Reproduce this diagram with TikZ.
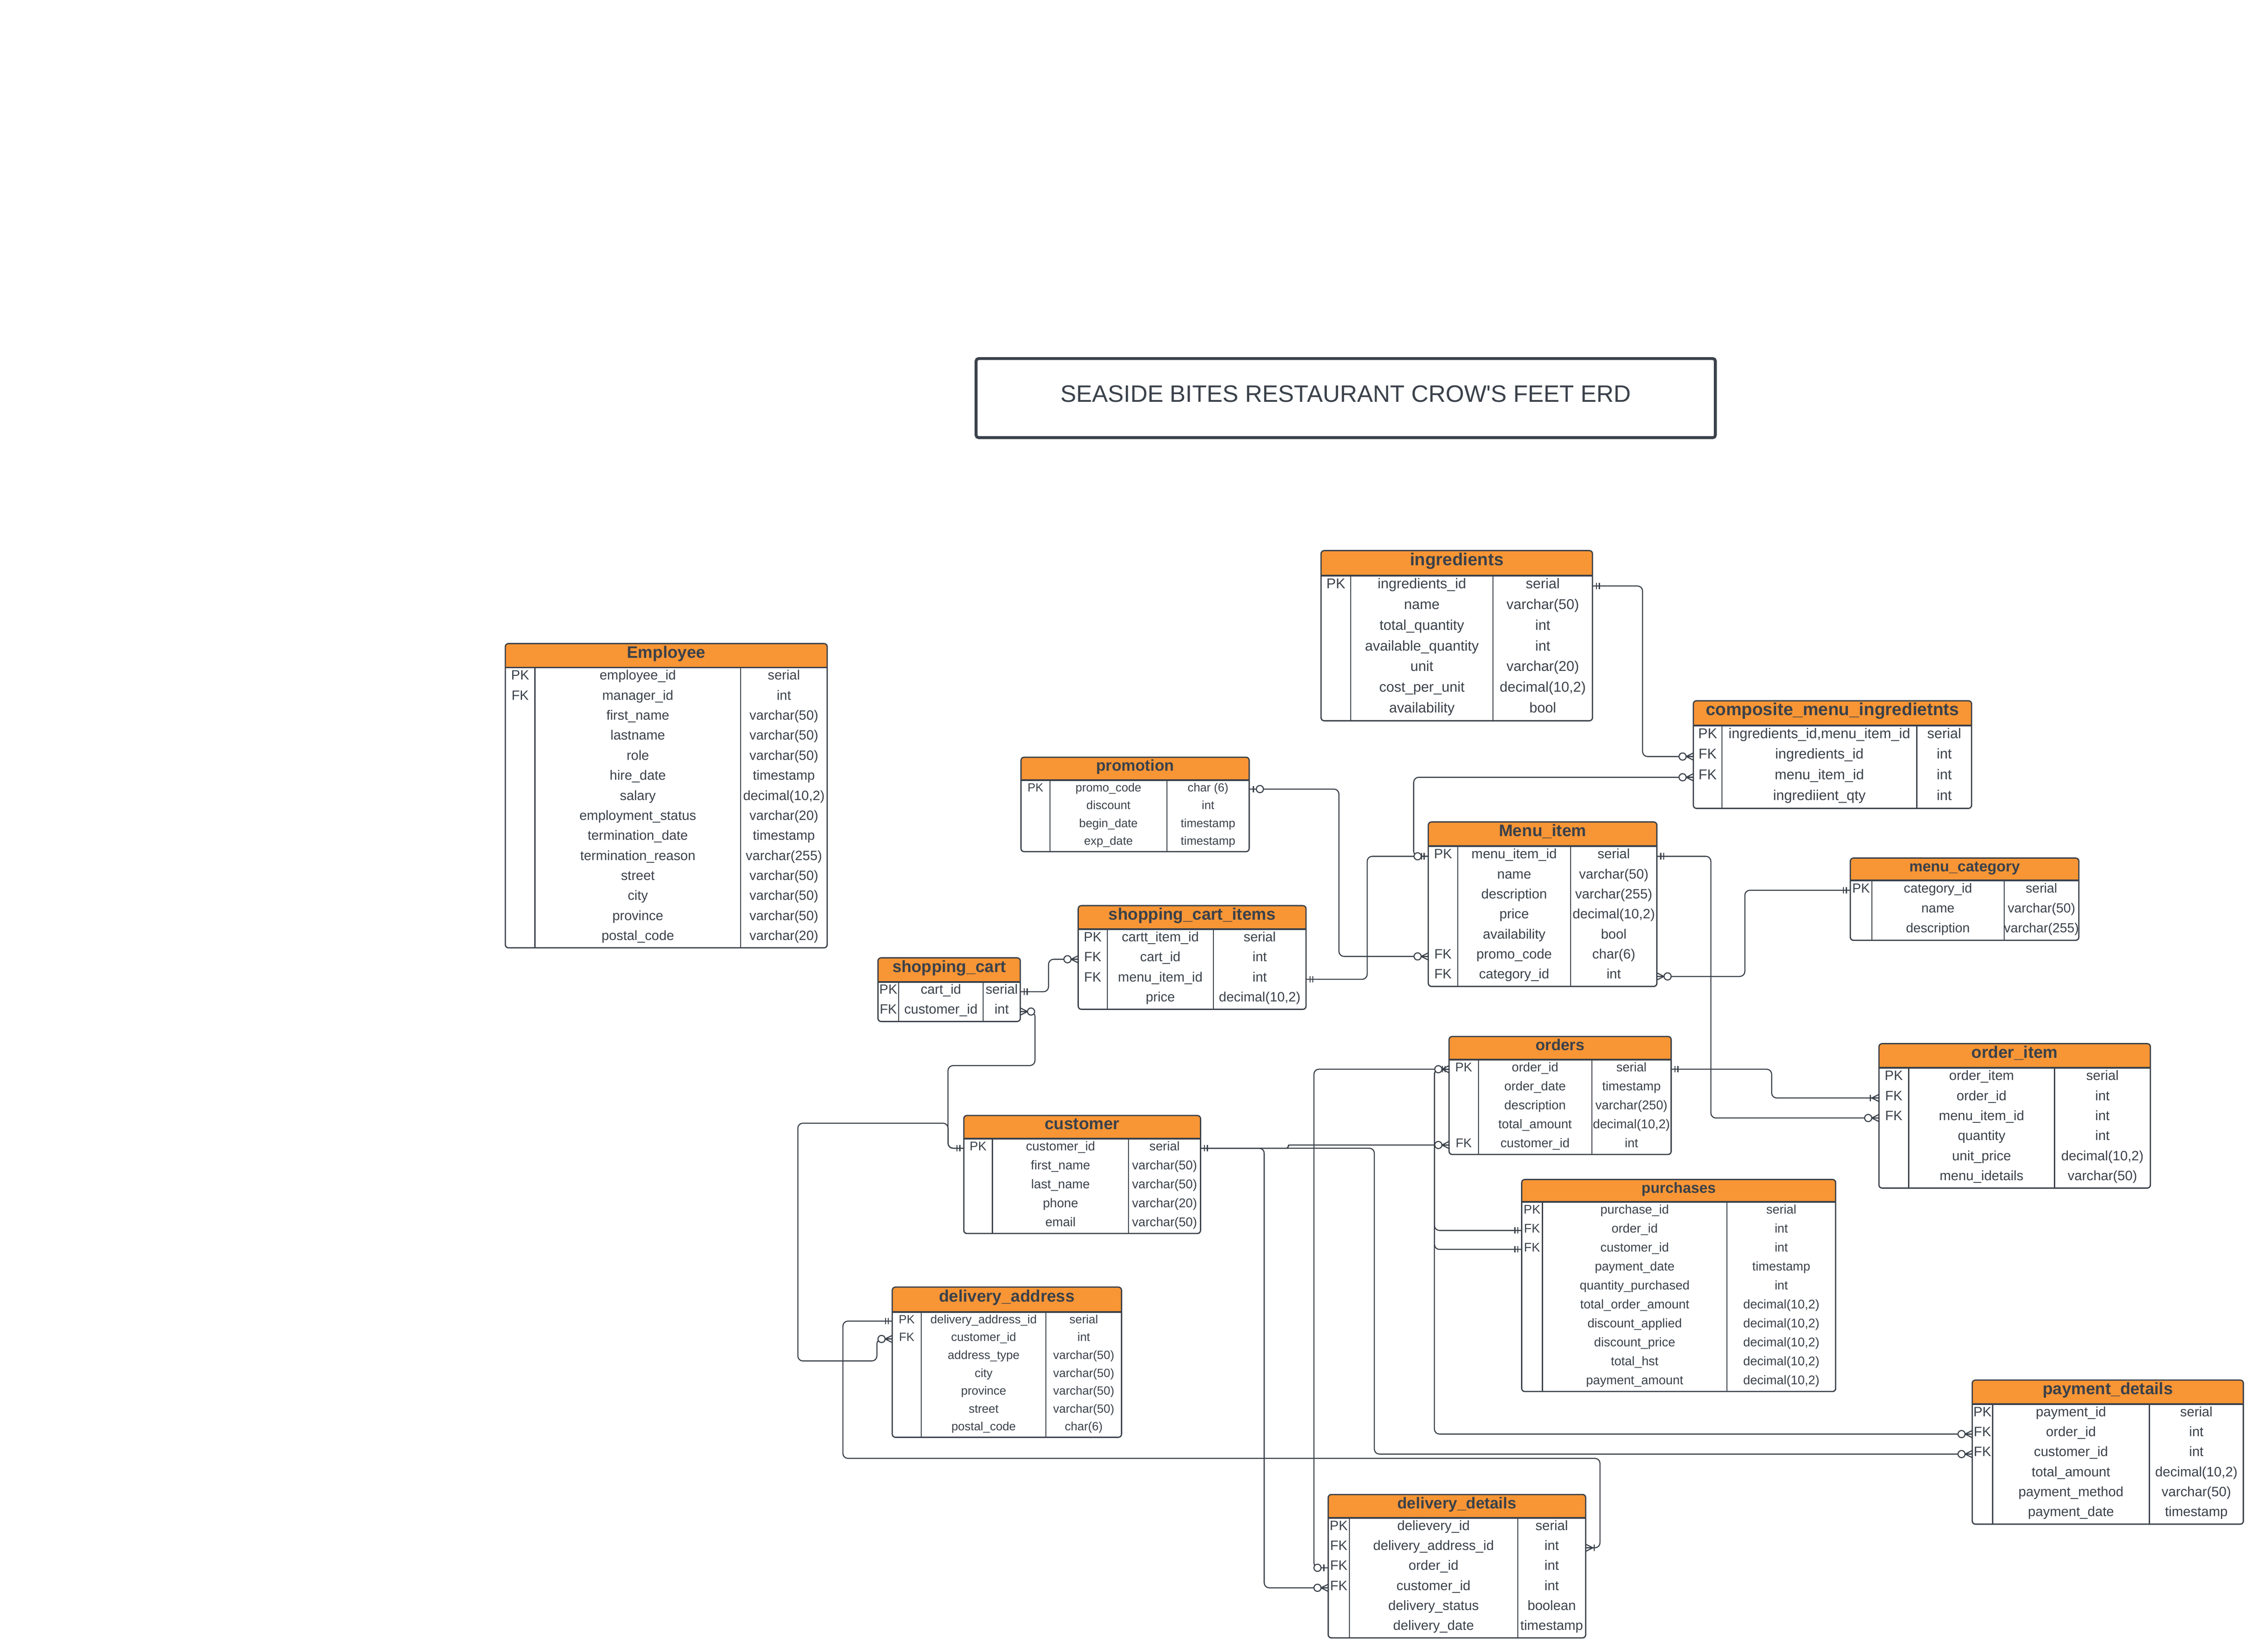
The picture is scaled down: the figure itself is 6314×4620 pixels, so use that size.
\documentclass[tikz,border=0pt]{standalone}
\usepackage{fontspec}
\setmainfont{Liberation Sans}
\definecolor{lc}{RGB}{58,65,74}
\definecolor{hdr}{RGB}{248,149,53}
\tikzset{
  conn/.style={draw=lc, line width=0.85pt, rounded corners=4pt},
  mk/.style={draw=lc, line width=0.85pt},
  tblborder/.style={draw=lc, line width=1pt, rounded corners=2.5pt},
  colline/.style={draw=lc, line width=0.85pt},
  hdrline/.style={draw=lc, line width=1.4pt},
  rowbox/.style={inner sep=0pt, outer sep=0pt},
  celltext/.style={inner sep=0pt, text=lc, text height=0.75em, text depth=0.37em,
                   font=\fontsize{\rowfs pt}{\rowfs pt}\selectfont},
  titletext/.style={inner sep=0pt, text=lc, text height=0.75em, text depth=0.37em},
}
\def\rowfs{10.7}
% table frame: left, top, col1, col2, right, header bottom, row height, rows
\newcommand{\erdset}[8]{%
  \def\ETl{#1}\def\ETt{#2}\def\ETa{#3}\def\ETb{#4}\def\ETr{#5}\def\EThb{#6}\def\ETrh{#7}%
  \pgfmathsetmacro\ETbot{#6+#7*#8}%
  \fill[white,rounded corners=2.5pt] (#1,#2) rectangle (#5,\ETbot);
  \begin{scope}
    \clip[rounded corners=2.5pt] (#1,#2) rectangle (#5,\ETbot);
    \fill[hdr] (#1,#2) rectangle (#5,#6);
  \end{scope}
  \draw[colline] (#3,#6) -- (#3,\ETbot) (#4,#6) -- (#4,\ETbot);
  \draw[hdrline] (#1,#6) -- (#5,#6);
  \draw[tblborder] (#1,#2) rectangle (#5,\ETbot);
}
\newcommand{\erdtitle}[3]{%
  \pgfmathsetmacro\ETcx{(\ETl+\ETr)/2}\pgfmathsetmacro\ETcy{(\ETt+\EThb)/2}%
  \node[titletext, font=\bfseries\fontsize{#3pt}{#3pt}\selectfont] (#1) at (\ETcx,\ETcy) {#2};
}
\newcommand{\erdrow}[5]{%
  \pgfmathsetmacro\ETy{\EThb+\ETrh*(#2-0.5)}%
  \pgfmathsetmacro\ETcx{(\ETl+\ETr)/2}%
  \pgfmathsetmacro\ETw{(\ETr-\ETl)*0.01}%
  \pgfmathsetmacro\ETh{\ETrh*0.01}%
  \node[rowbox, minimum width=\ETw cm, minimum height=\ETh cm] (#1-#2) at (\ETcx,\ETy) {};
  \pgfmathsetmacro\ETxa{(\ETl+\ETa)/2}%
  \pgfmathsetmacro\ETxb{(\ETa+\ETb)/2}%
  \pgfmathsetmacro\ETxc{(\ETb+\ETr)/2}%
  \node[celltext] (#1-#2k) at (\ETxa,\ETy) {#3};
  \node[celltext] (#1-#2n) at (\ETxb,\ETy) {#4};
  \node[celltext] (#1-#2t) at (\ETxc,\ETy) {#5};
}
% crow's feet markers: anchor, direction (+1 line leaves to the right, -1 to the left)
\newcommand{\mkOne}[2]{\begin{scope}[shift={(#1)},xscale=#2]
  \draw[mk] (11,-9)--(11,9) (19,-9)--(19,9);\end{scope}}
\newcommand{\mkZeroOne}[2]{\begin{scope}[shift={(#1)},xscale=#2]
  \draw[mk] (12,-9)--(12,9); \draw[mk,fill=white] (30,0) circle[radius=0.1cm];\end{scope}}
\newcommand{\mkZeroMany}[2]{\begin{scope}[shift={(#1)},xscale=#2]
  \draw[mk] (0,-10)--(20,0)--(0,10) (0,0)--(20,0);
  \draw[mk,fill=white] (30,0) circle[radius=0.1cm];\end{scope}}
\newcommand{\mkOneMany}[2]{\begin{scope}[shift={(#1)},xscale=#2]
  \draw[mk] (0,-10)--(20,0)--(0,10) (0,0)--(24,0) (24,-9)--(24,9);\end{scope}}
\begin{document}
\begin{tikzpicture}[x=0.01cm,y=-0.01cm]
\useasboundingbox (0,0) rectangle (6314,4620);

% title
\node[draw=lc, line width=2.3pt, rounded corners=2pt, minimum width=20.66cm, minimum height=2.21cm,
      inner sep=0pt, text=lc, text height=0.75em, text depth=0.13em,
      font=\fontsize{18.9pt}{18.9pt}\selectfont] (title) at (3763,1113.5)
      {SEASIDE BITES RESTAURANT CROW\textquotesingle S FEET ERD};

% Employee
\def\rowfs{10.7}
\erdset{1413}{1800}{1496}{2071}{2313}{1867}{56}{14}
\erdtitle{emp}{Employee}{13.2}
\erdrow{emp}{1}{PK}{employee\_id}{serial}
\erdrow{emp}{2}{FK}{manager\_id}{int}
\erdrow{emp}{3}{}{first\_name}{varchar(50)}
\erdrow{emp}{4}{}{lastname}{varchar(50)}
\erdrow{emp}{5}{}{role}{varchar(50)}
\erdrow{emp}{6}{}{hire\_date}{timestamp}
\erdrow{emp}{7}{}{salary}{decimal(10,2)}
\erdrow{emp}{8}{}{employment\_status}{varchar(20)}
\erdrow{emp}{9}{}{termination\_date}{timestamp}
\erdrow{emp}{10}{}{termination\_reason}{varchar(255)}
\erdrow{emp}{11}{}{street}{varchar(50)}
\erdrow{emp}{12}{}{city}{varchar(50)}
\erdrow{emp}{13}{}{province}{varchar(50)}
\erdrow{emp}{14}{}{postal\_code}{varchar(20)}

% ingredients
\def\rowfs{11.3}
\erdset{3694}{1540}{3777}{4175}{4453}{1610}{58}{7}
\erdtitle{ing}{ingredients}{13.8}
\erdrow{ing}{1}{PK}{ingredients\_id}{serial}
\erdrow{ing}{2}{}{name}{varchar(50)}
\erdrow{ing}{3}{}{total\_quantity}{int}
\erdrow{ing}{4}{}{available\_quantity}{int}
\erdrow{ing}{5}{}{unit}{varchar(20)}
\erdrow{ing}{6}{}{cost\_per\_unit}{decimal(10,2)}
\erdrow{ing}{7}{}{availability}{bool}

% composite_menu_ingredietnts
\def\rowfs{11.3}
\erdset{4735}{1960}{4815}{5360}{5513}{2029}{58}{4}
\erdtitle{comp}{composite\_menu\_ingredietnts}{13.9}
\erdrow{comp}{1}{PK}{ingredients\_id,menu\_item\_id}{serial}
\erdrow{comp}{2}{FK}{ingredients\_id}{int}
\erdrow{comp}{3}{FK}{menu\_item\_id}{int}
\erdrow{comp}{4}{}{ingrediient\_qty}{int}

% promotion
\def\rowfs{9.4}
\erdset{2855}{2118}{2936}{3263}{3493}{2182}{50}{4}
\erdtitle{promo}{promotion}{12.5}
\erdrow{promo}{1}{PK}{promo\_code}{char (6)}
\erdrow{promo}{2}{}{discount}{int}
\erdrow{promo}{3}{}{begin\_date}{timestamp}
\erdrow{promo}{4}{}{exp\_date}{timestamp}

% shopping_cart_items
\def\rowfs{10.7}
\erdset{3015}{2533}{3096}{3393}{3652}{2599}{56}{4}
\erdtitle{sci}{shopping\_cart\_items}{13.2}
\erdrow{sci}{1}{PK}{cartt\_item\_id}{serial}
\erdrow{sci}{2}{FK}{cart\_id}{int}
\erdrow{sci}{3}{FK}{menu\_item\_id}{int}
\erdrow{sci}{4}{}{price}{decimal(10,2)}

% shopping_cart
\def\rowfs{10.7}
\erdset{2455}{2679}{2513}{2749}{2853}{2746}{55.5}{2}
\erdtitle{sc}{shopping\_cart}{13.1}
\erdrow{sc}{1}{PK}{cart\_id}{serial}
\erdrow{sc}{2}{FK}{customer\_id}{int}

% customer
\def\rowfs{10.1}
\erdset{2695}{3120}{2775}{3156}{3357}{3185}{53}{5}
\erdtitle{cus}{customer}{13.2}
\erdrow{cus}{1}{PK}{customer\_id}{serial}
\erdrow{cus}{2}{}{first\_name}{varchar(50)}
\erdrow{cus}{3}{}{last\_name}{varchar(50)}
\erdrow{cus}{4}{}{phone}{varchar(20)}
\erdrow{cus}{5}{}{email}{varchar(50)}

% delivery_address
\def\rowfs{9.5}
\erdset{2495}{3600}{2576}{2925}{3136}{3670}{50}{7}
\erdtitle{da}{delivery\_address}{13.2}
\erdrow{da}{1}{PK}{delivery\_address\_id}{serial}
\erdrow{da}{2}{FK}{customer\_id}{int}
\erdrow{da}{3}{}{address\_type}{varchar(50)}
\erdrow{da}{4}{}{city}{varchar(50)}
\erdrow{da}{5}{}{province}{varchar(50)}
\erdrow{da}{6}{}{street}{varchar(50)}
\erdrow{da}{7}{}{postal\_code}{char(6)}

% delivery_details
\def\rowfs{10.8}
\erdset{3714}{4180}{3773}{4244}{4434}{4245}{56}{6}
\erdtitle{dd}{delivery\_details}{12.6}
\erdrow{dd}{1}{PK}{delievery\_id}{serial}
\erdrow{dd}{2}{FK}{delivery\_address\_id}{int}
\erdrow{dd}{3}{FK}{order\_id}{int}
\erdrow{dd}{4}{FK}{customer\_id}{int}
\erdrow{dd}{5}{}{delivery\_status}{boolean}
\erdrow{dd}{6}{}{delivery\_date}{timestamp}

% payment_details
\def\rowfs{10.8}
\erdset{5515}{3860}{5572}{6010}{6273}{3927}{56}{6}
\erdtitle{pd}{payment\_details}{13.2}
\erdrow{pd}{1}{PK}{payment\_id}{serial}
\erdrow{pd}{2}{FK}{order\_id}{int}
\erdrow{pd}{3}{FK}{customer\_id}{int}
\erdrow{pd}{4}{}{total\_amount}{decimal(10,2)}
\erdrow{pd}{5}{}{payment\_method}{varchar(50)}
\erdrow{pd}{6}{}{payment\_date}{timestamp}

% Menu_item
\def\rowfs{10.8}
\erdset{3994}{2299}{4076}{4392}{4633}{2367}{56}{7}
\erdtitle{mi}{Menu\_item}{13.3}
\erdrow{mi}{1}{PK}{menu\_item\_id}{serial}
\erdrow{mi}{2}{}{name}{varchar(50)}
\erdrow{mi}{3}{}{description}{varchar(255)}
\erdrow{mi}{4}{}{price}{decimal(10,2)}
\erdrow{mi}{5}{}{availability}{bool}
\erdrow{mi}{6}{FK}{promo\_code}{char(6)}
\erdrow{mi}{7}{FK}{category\_id}{int}

% menu_category
\def\rowfs{10.5}
\erdset{5174}{2400}{5234}{5604}{5813}{2462}{56}{3}
\erdtitle{mc}{menu\_category}{11.9}
\erdrow{mc}{1}{PK}{category\_id}{serial}
\erdrow{mc}{2}{}{name}{varchar(50)}
\erdrow{mc}{3}{}{description}{varchar(255)}

% orders
\def\rowfs{10.1}
\erdset{4052}{2899}{4134}{4451}{4673}{2964}{53}{5}
\erdtitle{ord}{orders}{12.5}
\erdrow{ord}{1}{PK}{order\_id}{serial}
\erdrow{ord}{2}{}{order\_date}{timestamp}
\erdrow{ord}{3}{}{description}{varchar(250)}
\erdrow{ord}{4}{}{total\_amount}{decimal(10,2)}
\erdrow{ord}{5}{FK}{customer\_id}{int}

% order_item
\def\rowfs{10.8}
\erdset{5254}{2919}{5337}{5745}{6013}{2987}{56}{6}
\erdtitle{oi}{order\_item}{13.3}
\erdrow{oi}{1}{PK}{order\_item}{serial}
\erdrow{oi}{2}{FK}{order\_id}{int}
\erdrow{oi}{3}{FK}{menu\_item\_id}{int}
\erdrow{oi}{4}{}{quantity}{int}
\erdrow{oi}{5}{}{unit\_price}{decimal(10,2)}
\erdrow{oi}{6}{}{menu\_idetails}{varchar(50)}

% purchases
\def\rowfs{10.0}
\erdset{4255}{3299}{4313}{4829}{5133}{3362}{53}{10}
\erdtitle{pur}{purchases}{11.8}
\erdrow{pur}{1}{PK}{purchase\_id}{serial}
\erdrow{pur}{2}{FK}{order\_id}{int}
\erdrow{pur}{3}{FK}{customer\_id}{int}
\erdrow{pur}{4}{}{payment\_date}{timestamp}
\erdrow{pur}{5}{}{quantity\_purchased}{int}
\erdrow{pur}{6}{}{total\_order\_amount}{decimal(10,2)}
\erdrow{pur}{7}{}{discount\_applied}{decimal(10,2)}
\erdrow{pur}{8}{}{discount\_price}{decimal(10,2)}
\erdrow{pur}{9}{}{total\_hst}{decimal(10,2)}
\erdrow{pur}{10}{}{payment\_amount}{decimal(10,2)}

% ---------- connectors ----------
\draw[conn] (ing-1.east) -- ++(140,0) |- (comp-2.west);
\draw[conn] (comp-3.west) -| ([xshift=-0.41cm]mi-1.west) -- (mi-1.west);
\draw[conn] (sci-3.east) -- ++(171,0) |- (mi-1.west);
\draw[conn] (promo-1.east) -- ++(251,0) |- (mi-6.west);
\draw[conn] (mi-7.east) -- ++(246,0) |- (mc-1.west);
\draw[conn] (mi-1.east) -- ++(151,0) |- (oi-3.west);
\draw[conn] (ord-1.east) -- ++(281,0) |- (oi-2.west);
\draw[conn] (sc-1.east) -- ++(79,0) |- (sci-2.west);
\draw[conn] (sc-2.east) -- ++(41,0) -- ++(0,151) -| ([xshift=-0.44cm]cus-1.west) -- (cus-1.west);
\draw[conn] (cus-1.west) -- ++(-44,0) -- ++(0,-70) -- ++(-420,0) -- ++(0,665) -| ([xshift=-0.43cm]da-2.west) -- (da-2.west);
\draw[conn] (da-1.west) -- ++(-138,0) -- ++(0,384) -| ([xshift=0.40cm]dd-2.east) -- (dd-2.east);
\draw[conn,rounded corners=1.5pt] (cus-1.east) -- ++(245,0) |- (ord-5.west);
\draw[conn] (cus-1.east) -- ++(178,0) |- (dd-4.west);
\draw[conn] (cus-1.east) -- ++(486,0) |- (pd-3.west);
\draw[conn] (ord-1.west) -- ++(-378,0) |- (dd-3.west);
\draw[conn] (ord-1.west) -- ++(-41,0) |- (pd-2.west);
\draw[conn] (ord-1.west) -- ++(-41,0) |- (pur-2.west);
\draw[conn] (ord-1.west) -- ++(-41,0) |- (pur-3.west);

% ---------- markers ----------
\mkOne{ing-1.east}{1}
\mkZeroMany{comp-2.west}{-1}
\mkZeroMany{comp-3.west}{-1}
\mkOne{mi-1.west}{-1}
\mkZeroOne{mi-1.west}{-1}
\mkOne{sci-3.east}{1}
\mkZeroOne{promo-1.east}{1}
\mkZeroMany{mi-6.west}{-1}
\mkZeroMany{mi-7.east}{1}
\mkOne{mc-1.west}{-1}
\mkOne{mi-1.east}{1}
\mkZeroMany{oi-3.west}{-1}
\mkOne{ord-1.east}{1}
\mkOneMany{oi-2.west}{-1}
\mkOne{sc-1.east}{1}
\mkZeroMany{sci-2.west}{-1}
\mkZeroMany{sc-2.east}{1}
\mkOne{cus-1.west}{-1}
\mkZeroMany{da-2.west}{-1}
\mkOne{da-1.west}{-1}
\mkOneMany{dd-2.east}{1}
\mkOne{cus-1.east}{1}
\mkZeroMany{ord-5.west}{-1}
\mkZeroMany{dd-4.west}{-1}
\mkZeroMany{pd-3.west}{-1}
\mkZeroOne{dd-3.west}{-1}
\mkOne{ord-1.west}{-1}
\mkZeroMany{ord-1.west}{-1}
\mkZeroMany{pd-2.west}{-1}
\mkOne{pur-2.west}{-1}
\mkOne{pur-3.west}{-1}
\end{tikzpicture}
\end{document}
